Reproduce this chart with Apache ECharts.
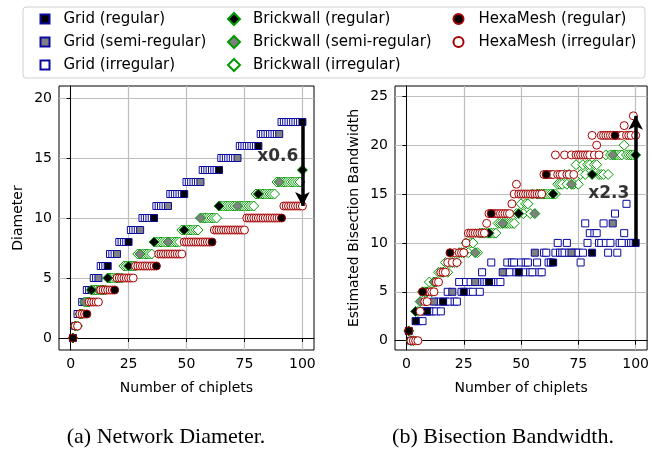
<!DOCTYPE html>
<html><head><meta charset="utf-8">
<script src="https://cdn.jsdelivr.net/npm/echarts@6/dist/echarts.min.js"></script>
<style>html,body{margin:0;padding:0;background:#fff}#c{width:652px;height:449px}</style>
</head><body><div id="c"></div>
<script>
// ---- data (index i => N = i+1 chiplets) ----
const gridDiameter = [0,1,2,2,3,3,4,4,4,5, 5,5,6,6,6,6,7,7,7,7, 8,8,8,8,8,9,9,9,9,9,
  10,10,10,10,10,10,11,11,11,11, 11,11,12,12,12,12,12,12,12,13, 13,13,13,13,13,13,14,14,14,14,
  14,14,14,14,15,15,15,15,15,15, 15,15,16,16,16,16,16,16,16,16, 16,17,17,17,17,17,17,17,17,17,
  18,18,18,18,18,18,18,18,18,18];
const brickDiameter = [0,1,1,2,2,3,3,3,4,4, 4,4,4,4,4,5,5,5,5,5, 5,5,6,6,6,6,6,6,7,7,
  7,7,7,7,7,8,8,8,8,8, 8,8,8,8,8,8,8,9,9,9, 9,9,9,9,9,10,10,10,10,10,
  10,10,10,11,11,11,11,11,11,11, 11,11,11,11,11,11,11,11,11,12, 12,12,12,12,12,12,12,12,13,13,
  13,13,13,13,13,13,13,13,13,14];
const hexaDiameter = [0,1,1,2,2,2,2,3,3,3, 3,3,4,4,4,4,4,4,4,5, 5,5,5,5,5,5,5,6,6,6,
  6,6,6,6,6,6,6,7,7,7, 7,7,7,7,7,7,7,7,8,8, 8,8,8,8,8,8,8,8,8,8,
  8,9,9,9,9,9,9,9,9,9, 9,9,9,9,9,10,10,10,10,10, 10,10,10,10,10,10,10,10,10,10,
  10,11,11,11,11,11,11,11,11,11];
const gridBisection = [1,0,0,2,2,3,2,3,3,3, 3,4,3,4,3,4,4,5,4,5, 4,4,6,5,5,6,5,6,5,6,
  6,5,7,6,6,6,8,6,6,6, 6,7,7,8,7,8,8,7,7,8, 7,8,8,7,7,9,8,7,7,9,
  9,8,8,8,9,10,9,9,9,10, 9,9,9,9,9,8,9,12,10,11, 9,11,11,10,10,12,10,9,10,12,
  13,9,10,10,11,14,10,10,10,10];
const brickBisection = [1,0,0,3,3,4,5,5,5,6, 5,6,6,7,7,7,8,7,8,8, 8,8,9,9,9,10,9,10,10,9,
  9,11,11,11,11,11,11,11,11,12, 12,12,12,12,12,12,12,13,13,14, 13,14,14,13,15,13,15,15,15,15,
  15,15,15,15,15,16,16,16,17,16, 17,16,16,18,16,17,18,17,18,18, 17,18,18,17,17,17,19,17,19,19,
  19,19,19,19,20,19,19,19,19,19];
const hexaBisection = [1,0,0,0,0,3,5,4,4,5, 5,5,6,6,7,7,7,8,9,8, 9,8,9,9,9,10,11,11,11,11,
  11,11,11,11,12,13,13,13,13,13, 13,13,13,13,13,14,15,16,15,15, 15,15,15,15,15,15,15,15,15,17,
  17,17,17,17,19,17,17,17,19,17, 17,19,17,19,19,19,19,19,19,19, 21,19,20,19,21,21,21,21,21,21,
  21,21,21,21,22,21,21,21,23,21];
const gridRegularN = [1,4,9,16,25,36,49,64,81,100];
const gridSemiN = [2,6,12,20,30,42,56,72,90];
const brickRegularN = [1,4,9,16,25,36,49,64,81,100];
const brickSemiN = [2,6,12,20,30,42,56,72,90];
const hexaRegularN = [1,7,19,37,61,91];
const xTicks = [0,25,50,75,100];
const diamTicks = [0,5,10,15,20];
const bwTicks = [0,5,10,15,20,25];
const diamArrow = [[100,18],[100,11]];
const bwArrow = [[100,10],[100,23]];
const diamNote = [[89.4,15.1,'x0.6']];
const bwNote = [[88.3,15.0,'x2.3']];

// ---- helpers ----
const F = 'DejaVu Sans';
const allN = Array.from({length: gridDiameter.length}, (_, i) => i + 1);
const pick = (vals, ns) => ns.map(n => [n, vals[n - 1]]);
const rest = (vals, ...excl) => pick(vals, allN.filter(n => !excl.some(e => e.includes(n))));
const GRID_EDGE = '#0a0aa0', BRICK_EDGE = '#009a00', HEXA_EDGE = '#a80000';
const styles = {
  'Grid (regular)': ['rect', 7, '#000', GRID_EDGE],
  'Grid (semi-regular)': ['rect', 7, '#808080', GRID_EDGE],
  'Grid (irregular)': ['rect', 7, '#fff', GRID_EDGE],
  'Brickwall (regular)': ['diamond', 10, '#000', BRICK_EDGE],
  'Brickwall (semi-regular)': ['diamond', 10, '#808080', BRICK_EDGE],
  'Brickwall (irregular)': ['diamond', 10, '#fff', BRICK_EDGE],
  'HexaMesh (regular)': ['circle', 8, '#000', HEXA_EDGE],
  'HexaMesh (irregular)': ['circle', 8, '#fff', HEXA_EDGE]
};
function sc(name, gi, data) {
  const s = styles[name];
  return { type: 'scatter', name, xAxisIndex: gi, yAxisIndex: gi, data, symbol: s[0], symbolSize: s[1],
    itemStyle: { color: s[2], borderColor: s[3], borderWidth: 1, opacity: 1 }, emphasis: { disabled: true }, animation: false, clip: false };
}
function chartSeries(gi, g, b, h) {
  return [
    sc('Grid (irregular)', gi, rest(g, gridRegularN, gridSemiN)),
    sc('Grid (semi-regular)', gi, pick(g, gridSemiN)),
    sc('Grid (regular)', gi, pick(g, gridRegularN)),
    sc('Brickwall (irregular)', gi, rest(b, brickRegularN, brickSemiN)),
    sc('Brickwall (semi-regular)', gi, pick(b, brickSemiN)),
    sc('Brickwall (regular)', gi, pick(b, brickRegularN)),
    sc('HexaMesh (irregular)', gi, rest(h, hexaRegularN)),
    sc('HexaMesh (regular)', gi, pick(h, hexaRegularN))
  ];
}
function annot(gi, note, arrow) {
  return { type: 'scatter', name: 'annot' + gi, xAxisIndex: gi, yAxisIndex: gi, symbolSize: 0, silent: true, animation: false,
    data: note.map(d => ({ value: [d[0], d[1]], label: { show: true, formatter: d[2] } })),
    label: { position: 'inside', color: '#000', fontFamily: F, fontWeight: 'bold', fontSize: 17 },
    markLine: { silent: true, animation: false, symbol: ['none', 'arrow'], symbolSize: [11, 14],
      label: { show: false }, lineStyle: { color: '#000', width: 3.5, type: 'solid' },
      data: [[{ coord: arrow[0] }, { coord: arrow[1] }]] } };
}
function xAx(gi) {
  return { type: 'value', gridIndex: gi, min: -5, max: 105, name: 'Number of chiplets', nameLocation: 'middle', nameGap: 31,
    nameTextStyle: { fontSize: 14, color: '#000', fontFamily: F },
    axisLine: { show: true, lineStyle: { color: '#000', width: 1 } },
    axisTick: { show: true, length: 4, customValues: xTicks, lineStyle: { color: '#000' } },
    axisLabel: { fontSize: 14, color: '#000', fontFamily: F, margin: 7, customValues: xTicks },
    splitLine: { show: true, lineStyle: { color: '#bdbdbd', width: 1.2 } } };
}
function yAx(gi, min, max, ticks, name, gap) {
  return { type: 'value', gridIndex: gi, min, max, name, nameLocation: 'middle', nameGap: gap,
    nameTextStyle: { fontSize: 14, color: '#000', fontFamily: F },
    axisLine: { show: true, lineStyle: { color: '#000', width: 1 } },
    axisTick: { show: true, length: 4, customValues: ticks, lineStyle: { color: '#000' } },
    axisLabel: { fontSize: 14, color: '#000', fontFamily: F, margin: 7, customValues: ticks },
    splitLine: { show: true, lineStyle: { color: '#bdbdbd', width: 1.2 } } };
}
function leg(names, left, size, pad) {
  return { orient: 'vertical', left, top: 11, itemWidth: size, itemHeight: size, itemGap: 7, padding: 0,
    selectedMode: false, data: names,
    textStyle: { fontSize: 15, color: '#000', fontFamily: F, lineHeight: 16, padding: [0, 0, 0, pad] } };
}

const chart = echarts.init(document.getElementById('c'), null, { renderer: 'canvas' });
chart.setOption({
  animation: false,
  backgroundColor: '#fff',
  grid: [
    { left: 59, top: 86, width: 255, height: 264, show: true, borderColor: '#000', borderWidth: 1 },
    { left: 395, top: 86, width: 256, height: 264, show: true, borderColor: '#000', borderWidth: 1 }
  ],
  xAxis: [xAx(0), xAx(1)],
  yAxis: [yAx(0, -1, 21, diamTicks, 'Diameter', 34), yAx(1, -0.95, 26.05, bwTicks, 'Estimated Bisection Bandwidth', 34)],
  legend: [
    leg(['Grid (regular)', 'Grid (semi-regular)', 'Grid (irregular)'], 39.5, 9, 9),
    leg(['Brickwall (regular)', 'Brickwall (semi-regular)', 'Brickwall (irregular)'], 227, 12, 8),
    leg(['HexaMesh (regular)', 'HexaMesh (irregular)'], 452.5, 10, 10)
  ],
  graphic: [
    { type: 'rect', z: -1, shape: { x: 23, y: 7, width: 622, height: 71, r: 3 }, style: { fill: '#fff', stroke: '#d0d0d0', lineWidth: 1 } },
    { type: 'text', style: { text: '(a) Network Diameter.', x: 166, y: 437, textAlign: 'center', textVerticalAlign: 'middle', font: '22px "Liberation Serif"', fill: '#000' } },
    { type: 'text', style: { text: '(b) Bisection Bandwidth.', x: 503, y: 437, textAlign: 'center', textVerticalAlign: 'middle', font: '22px "Liberation Serif"', fill: '#000' } }
  ],
  series: [
    ...chartSeries(0, gridDiameter, brickDiameter, hexaDiameter),
    annot(0, diamNote, diamArrow),
    ...chartSeries(1, gridBisection, brickBisection, hexaBisection),
    annot(1, bwNote, bwArrow)
  ]
});
</script></body></html>
